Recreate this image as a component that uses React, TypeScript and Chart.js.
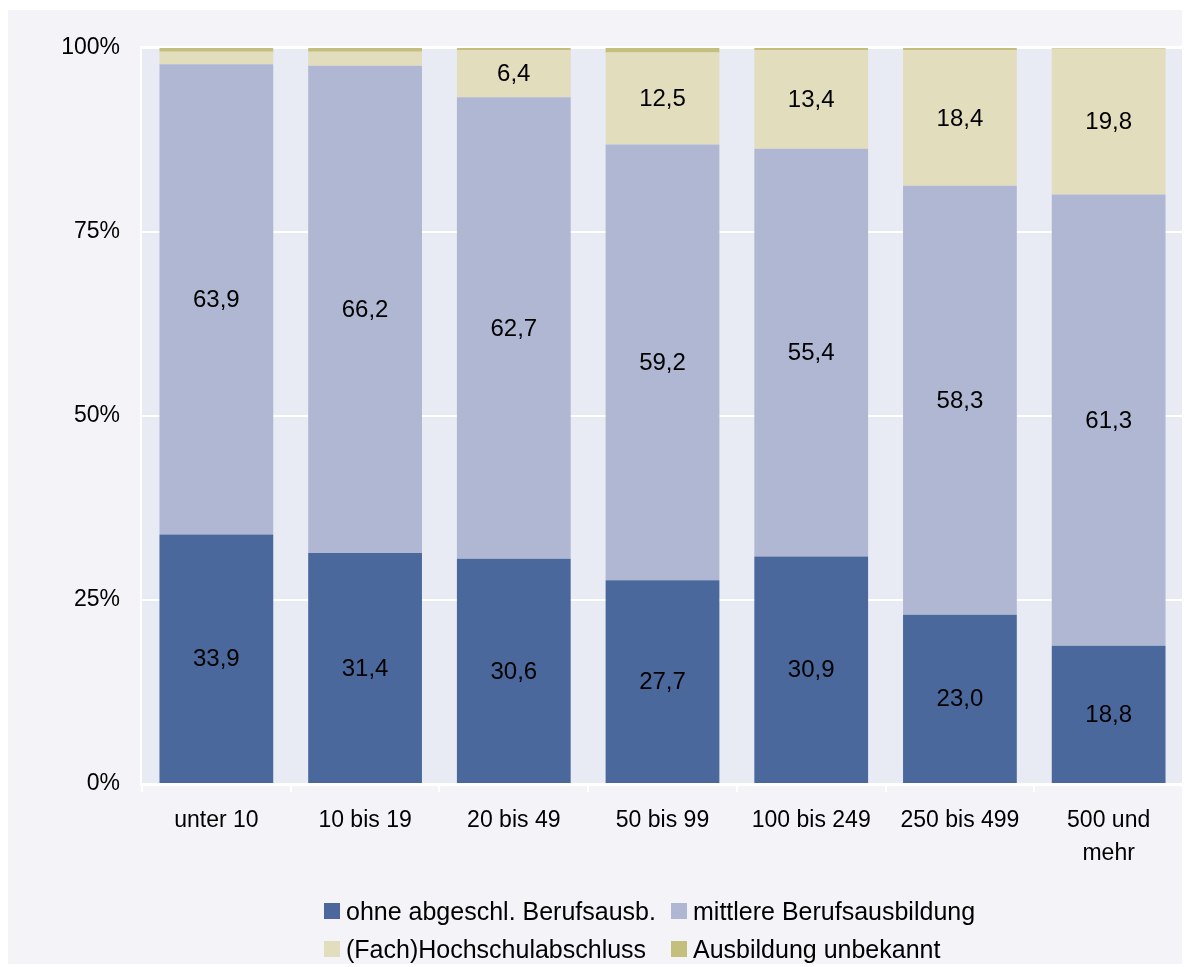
import React, { useEffect, useRef } from 'react';
import { Chart, registerables } from 'chart.js';

Chart.register(...registerables);

const categories: (string | string[])[] = [
  'unter 10',
  '10 bis 19',
  '20 bis 49',
  '50 bis 99',
  '100 bis 249',
  '250 bis 499',
  ['500 und', 'mehr'],
];
const ohneAbschluss = [33.9, 31.4, 30.6, 27.7, 30.9, 23.0, 18.8];
const mittlere = [63.9, 66.2, 62.7, 59.2, 55.4, 58.3, 61.3];
const hochschul = [1.7, 1.9, 6.4, 12.5, 13.4, 18.4, 19.8];
const unbekannt = [0.5, 0.5, 0.3, 0.6, 0.3, 0.3, 0.2];
const seriesNames = [
  'ohne abgeschl. Berufsausb.',
  'mittlere Berufsausbildung',
  '(Fach)Hochschulabschluss',
  'Ausbildung unbekannt',
];
const seriesColors = ['#4a689c', '#afb7d3', '#e2ddbc', '#c4bf7c'];
const yTicks = [0, 25, 50, 75, 100];
const labelThreshold = 5;

const FONT = "'Liberation Sans', Arial, sans-serif";

const fmt = (v: number) => v.toFixed(1).replace('.', ',');

const plotBgPlugin = {
  id: 'plotBg',
  beforeDraw(chart: any) {
    const { ctx, chartArea: a } = chart;
    ctx.save();
    ctx.fillStyle = '#e8ebf4';
    ctx.fillRect(a.left, a.top, a.right - a.left, a.bottom - a.top);
    ctx.restore();
  },
  beforeDatasetsDraw(chart: any) {
    const { ctx, chartArea: a } = chart;
    ctx.save();
    ctx.strokeStyle = '#ffffff';
    ctx.lineWidth = 2;
    ctx.strokeRect(a.left - 1, a.top - 1, a.right - a.left + 2, a.bottom - a.top + 2);
    ctx.restore();
  },
};

const valueLabelPlugin = {
  id: 'valueLabels',
  afterDatasetsDraw(chart: any) {
    const { ctx } = chart;
    ctx.save();
    ctx.font = `24px ${FONT}`;
    ctx.fillStyle = '#000000';
    ctx.textAlign = 'center';
    ctx.textBaseline = 'middle';
    chart.data.datasets.forEach((ds: any, i: number) => {
      const meta = chart.getDatasetMeta(i);
      meta.data.forEach((bar: any, j: number) => {
        const v = ds.data[j];
        if (v < labelThreshold) return;
        const p = bar.getProps(['x', 'y', 'base'], true);
        ctx.fillText(fmt(v), p.x, (p.y + p.base) / 2 + 1);
      });
    });
    ctx.restore();
  },
};

export default function App() {
  const ref = useRef<HTMLCanvasElement | null>(null);

  useEffect(() => {
    if (!ref.current) return;
    const series = [ohneAbschluss, mittlere, hochschul, unbekannt];
    const chart = new Chart(ref.current, {
      type: 'bar',
      data: {
        labels: categories,
        datasets: series.map((d, i) => ({
          label: seriesNames[i],
          data: d,
          backgroundColor: seriesColors[i],
          borderWidth: 0,
          categoryPercentage: 1,
          barPercentage: 0.765,
        })),
      },
      options: {
        animation: false,
        responsive: false,
        maintainAspectRatio: false,
        layout: { padding: { left: 0, right: 7, top: 38, bottom: 82 } },
        plugins: {
          legend: { display: false },
          tooltip: { enabled: false },
        },
        scales: {
          x: {
            stacked: true,
            grid: {
              drawOnChartArea: false,
              drawTicks: true,
              tickLength: 8,
              color: '#ffffff',
              lineWidth: 2,
            },
            border: { display: false },
            ticks: {
              autoSkip: false,
              maxRotation: 0,
              minRotation: 0,
              padding: 13,
              color: '#000000',
              font: { family: FONT, size: 23, lineHeight: 1.4 },
            },
            afterFit: (s: any) => {
              s.height = 100;
            },
          },
          y: {
            stacked: true,
            min: 0,
            max: 100,
            afterBuildTicks: (s: any) => {
              s.ticks = yTicks.map((v) => ({ value: v }));
            },
            grid: { color: '#ffffff', lineWidth: 2, drawTicks: false },
            border: { display: false },
            ticks: {
              padding: 22,
              color: '#000000',
              font: { family: FONT, size: 23 },
              callback: (v: any) => `${v}%`,
            },
            afterFit: (s: any) => {
              s.width = 134;
            },
          },
        },
      },
      plugins: [plotBgPlugin, valueLabelPlugin],
    });
    return () => chart.destroy();
  }, []);

  const legendItem = (i: number) => (
    <div key={i} style={{ display: 'flex', alignItems: 'center', height: 38 }}>
      <span
        style={{
          display: 'inline-block',
          width: 16,
          height: 16,
          background: seriesColors[i],
          marginRight: 6,
        }}
      />
      <span>{seriesNames[i]}</span>
    </div>
  );

  return (
    <div
      style={{
        position: 'relative',
        top: 2,
        width: 1182,
        height: 956,
        background: '#f3f3f8',
      }}
    >
      <canvas ref={ref} width={1182} height={956} style={{ width: 1182, height: 956, display: 'block' }} />
      <div
        style={{
          position: 'absolute',
          left: 316,
          top: 882,
          display: 'grid',
          gridTemplateColumns: '347px auto',
          fontFamily: FONT,
          fontSize: 25,
          color: '#000',
          whiteSpace: 'nowrap',
        }}
      >
        {[0, 1, 2, 3].map(legendItem)}
      </div>
    </div>
  );
}
